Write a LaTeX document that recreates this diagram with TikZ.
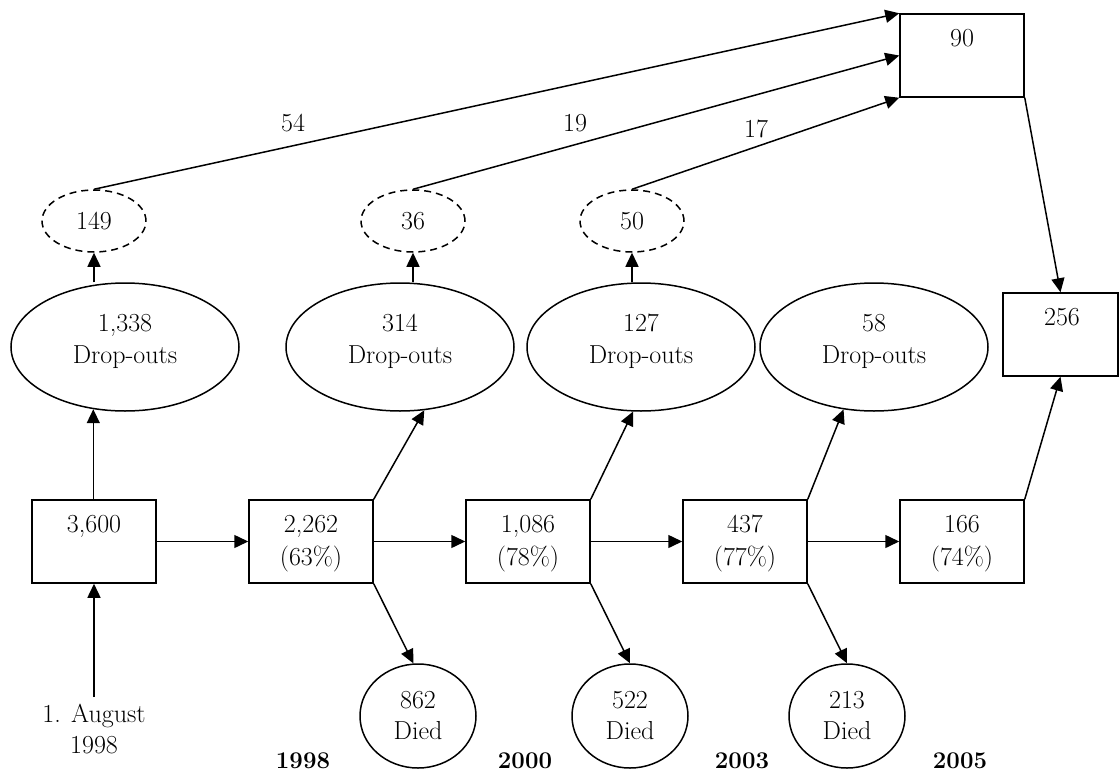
\documentclass[tikz,border=0pt]{standalone}
\usepackage{fontspec}
\usetikzlibrary{shapes.geometric,arrows.meta}
\tikzset{
  ln/.style={line width=1.5pt},
  arr/.style={ln, -{Triangle[length=14pt,width=13pt]}},
  box/.style={draw, ln, rectangle, minimum width=124pt, minimum height=83pt, inner sep=0pt},
  drop/.style={draw, ln, ellipse, minimum width=228pt, minimum height=128pt, inner sep=0pt},
  died/.style={draw, ln, ellipse, minimum width=116pt, minimum height=104pt, inner sep=0pt,
    align=center, font=\fontsize{26}{31}\selectfont},
  dashell/.style={draw, ln, ellipse, dash pattern=on 7pt off 5pt, minimum width=104pt,
    minimum height=62pt, inner sep=0pt, font=\fontsize{26}{31}\selectfont},
  txt/.style={font=\fontsize{26}{31}\selectfont, inner sep=0pt, anchor=base},
  yr/.style={font=\fontsize{24}{28}\selectfont\bfseries, inner sep=0pt, anchor=base},
}
\begin{document}
\begin{tikzpicture}[x=1pt, y=-1pt]
\useasboundingbox (0,0) rectangle (1120,774);

% boxes
\node[box] (b3600) at (94,541.5) {};
\node[box] (b2262) at (311,541.5) {};
\node[box] (b1086) at (528,541.5) {};
\node[box] (b437)  at (745,541.5) {};
\node[box] (b166)  at (962,541.5) {};
\node[box] (b90)   at (962,55.5) {};
\node[box, minimum width=115pt] (b256) at (1060.5,334.5) {};

\node[txt] (t3600) at (94,532) {3,600};
\node[txt] (t2262a) at (311,532) {2,262};
\node[txt] (t2262b) at (311,565) {(63\%)};
\node[txt] (t1086a) at (528,532) {1,086};
\node[txt] (t1086b) at (528,565) {(78\%)};
\node[txt] (t437a) at (745,532) {437};
\node[txt] (t437b) at (745,565) {(77\%)};
\node[txt] (t166a) at (962,532) {166};
\node[txt] (t166b) at (962,565) {(74\%)};
\node[txt] (t90) at (962,46) {90};
\node[txt] (t256) at (1062,325) {256};

% drop-out ellipses
\node[drop] (e1338) at (125,347) {};
\node[drop] (e314)  at (400,347) {};
\node[drop] (e127)  at (641,347) {};
\node[drop] (e58)   at (874,347) {};
\node[txt] (n1338) at (125,331) {1,338};
\node[txt] (d1338) at (125,363) {Drop-outs};
\node[txt] (n314) at (400,331) {314};
\node[txt] (d314) at (400,363) {Drop-outs};
\node[txt] (n127) at (641,331) {127};
\node[txt] (d127) at (641,363) {Drop-outs};
\node[txt] (n58) at (874,331) {58};
\node[txt] (d58) at (874,363) {Drop-outs};

% dashed ellipses
\node[dashell] (e149) at (94,221) {149};
\node[dashell] (e36)  at (413,221) {36};
\node[dashell] (e50)  at (632,221) {50};

% died ellipses
\node[died] (d862) at (418,716) {862\\Died};
\node[died] (d522) at (630,716) {522\\Died};
\node[died] (d213) at (847,716) {213\\Died};

% start label
\node[font=\fontsize{26}{31}\selectfont, align=center, inner sep=0pt, anchor=north] (aug) at (94,704) {1. August\\1998};

% years
\node[yr] (y1998) at (303,768) {1998};
\node[yr] (y2000) at (525,768) {2000};
\node[yr] (y2003) at (742,768) {2003};
\node[yr] (y2005) at (960,768) {2005};

% flow labels
\node[txt] (l54) at (293,131) {54};
\node[txt] (l19) at (575,131) {19};
\node[txt] (l17) at (756,137) {17};

% connectors
\draw[arr] ([yshift=7pt]aug.north) -- (b3600.south);
\draw[arr] (b3600.east) -- (b2262.west);
\draw[arr] (b2262.east) -- (b1086.west);
\draw[arr] (b1086.east) -- (b437.west);
\draw[arr] (b437.east) -- (b166.west);

\draw[arr] (b3600.north -| e1338.-117) -- (e1338.-117);
\draw[arr] (b2262.north east) -- (e314.-69);
\draw[arr] (b1086.north east) -- (e127.-97);
\draw[arr] (b437.north east) -- (e58.-116);

\draw[arr] (b2262.south east) -- (d862.95);
\draw[arr] (b1086.south east) -- (d522.90);
\draw[arr] (b437.south east) -- (d213.90);

\draw[arr] (e149.south |- e1338.north) -- (e149.south);
\draw[arr] (e36.south |- e314.north) -- (e36.south);
\draw[arr] (e50.south |- e127.north) -- (e50.south);

\draw[arr] (e149.north) -- (b90.north west);
\draw[arr] (e36.north) -- (b90.west);
\draw[arr] (e50.north) -- (b90.south west);

\draw[arr] (b90.south east) -- (b256.north);
\draw[arr] (b166.north east) -- (b256.south);
\end{tikzpicture}
\end{document}
